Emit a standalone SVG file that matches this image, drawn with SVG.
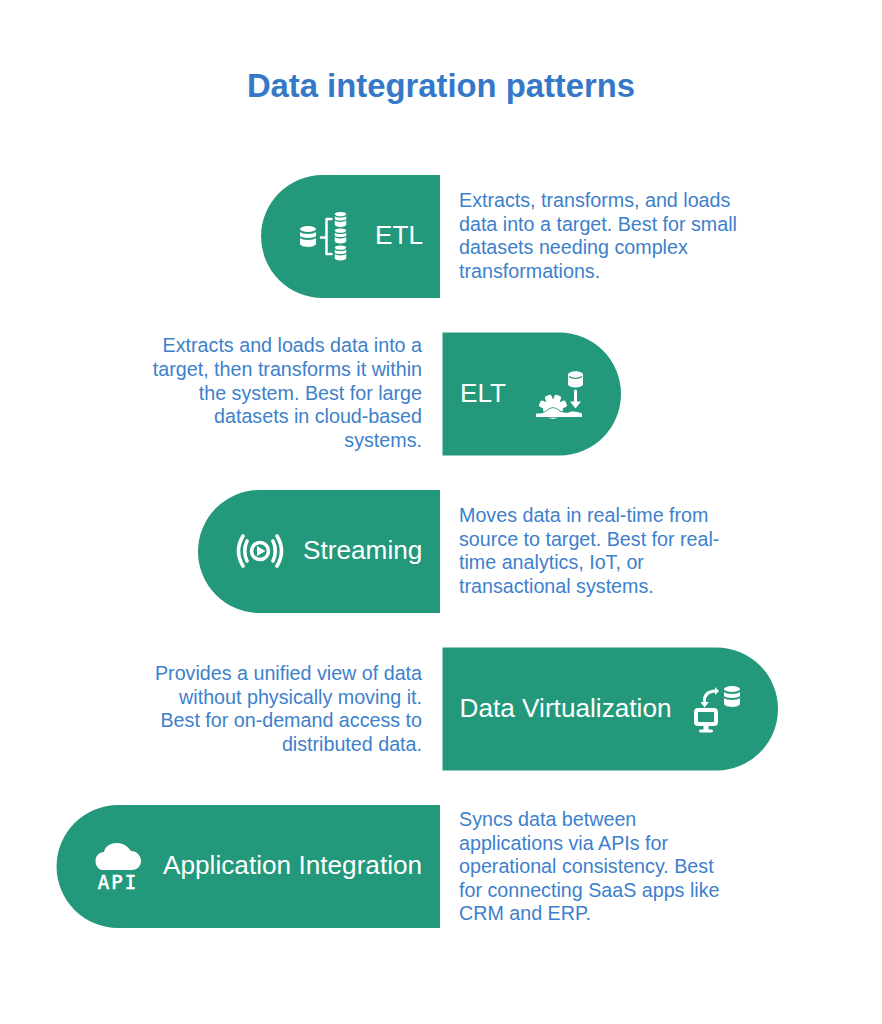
<svg xmlns="http://www.w3.org/2000/svg" width="882" height="1024" viewBox="0 0 882 1024">
<style>
text{font-family:"Liberation Sans",Arial,sans-serif}
.t{font-size:32.800px;font-weight:700;fill:#3578c8}
.l{font-size:26.200px;fill:#fff}
.d{font-size:19.700px;fill:#3d80cc}
.e{text-anchor:end}
.b{fill:#23987a}
.i{fill:#fff;stroke:none}
.s{fill:none;stroke:#fff;stroke-width:3;stroke-linecap:round;stroke-linejoin:round}
</style>
<defs>
<g id="db">
<ellipse class="i" cx="0" cy="-7.500" rx="8" ry="3"/>
<path class="i" d="M-8 -4.500C-6 -2 6 -2 8 -4.500V-.5C6 2 -6 2 -8 -.5Z"/>
<path class="i" d="M-8 1.500C-6 4 6 4 8 1.500V7C8 11.500 -8 11.500 -8 7Z"/>
</g>
<rect id="tooth" class="i" x="-3.500" y="-14.500" width="7" height="7" rx="2"/>
</defs>
<rect width="882" height="1024" fill="#fff"/>
<text class="t" x="441" y="97" text-anchor="middle">Data integration patterns</text>
<g id="etl">
<path class="b" d="M440 175V298H322.500A61.500 61.500 0 0 1 322.500 175Z"/>
<use href="#db" transform="translate(308 236.500)"/>
<use href="#db" transform="translate(340.500 219.500) scale(.72)"/>
<use href="#db" transform="translate(340.500 236) scale(.72)"/>
<use href="#db" transform="translate(340.500 253) scale(.72)"/>
<path class="s" style="stroke-width:2.500" d="M331.500 219H326.500V254H331.500M326.500 237.500H321"/>
<text class="l" x="375" y="244">ETL</text>
<g class="d"><text x="459" y="207">Extracts, transforms, and loads</text><text x="459" y="230.500">data into a target. Best for small</text><text x="459" y="254">datasets needing complex</text><text x="459" y="277.500">transformations.</text></g>
</g>
<g id="elt">
<path class="b" d="M442.500 332.500V455.500H559.500A61.500 61.500 0 0 0 559.500 332.500Z"/>
<text class="l" x="460" y="401.500">ELT</text>
<path class="i" d="M568 375C568 370 583 370 583 375V384C583 388.500 568 388.500 568 384Z"/><path d="M569 376.500C572 379 579 379 582 376.500" fill="none" stroke="#23987a" stroke-width="1.200"/>
<path class="s" d="M575.500 391V403"/><path class="i" d="M570 401.500H581L575.500 408.500Z"/>
<circle class="i" cx="553" cy="409" r="10"/>
<use href="#tooth" transform="translate(553 409) rotate(-22)"/><use href="#tooth" transform="translate(553 409) rotate(22)"/>
<use href="#tooth" transform="translate(553 409) rotate(-66)"/><use href="#tooth" transform="translate(553 409) rotate(66)"/>
<path d="M536 417V413.500C541 413.500 545 413 548 410 551 407.500 555 407.500 558 410 561 413 565 413 569 412.500 572 410.500 578 412 582 413.500V417Z" fill="#fff" stroke="#23987a" stroke-width="1.500" paint-order="stroke"/>
<g class="d"><text class="e" x="422" y="352">Extracts and loads data into a</text><text class="e" x="422" y="376">target, then transforms it within</text><text class="e" x="422" y="399.500">the system. Best for large</text><text class="e" x="422" y="423">datasets in cloud-based</text><text class="e" x="422" y="446.500">systems.</text></g>
</g>
<g id="streaming">
<path class="b" d="M440 490V613H259.500A61.500 61.500 0 0 1 259.500 490Z"/>
<circle cx="260" cy="551" r="8.500" fill="none" stroke="#fff" stroke-width="3.500"/><path class="i" d="M257 546L265.500 551 257 556Z"/>
<path class="s" style="stroke-width:3.600" d="M247 541Q242.500 551 247 561M273 541Q277.500 551 273 561M243 536Q234 551 243 566M277 536Q286 551 277 566"/>
<text class="l" x="303" y="559">Streaming</text>
<g class="d"><text x="459" y="522">Moves data in real-time from</text><text x="459" y="545.500">source to target. Best for real-</text><text x="459" y="569">time analytics, IoT, or</text><text x="459" y="592.500">transactional systems.</text></g>
</g>
<g id="virtualization">
<path class="b" d="M442.500 647.500V770.500H716.500A61.500 61.500 0 0 0 716.500 647.500Z"/>
<text class="l" x="459.500" y="716.500">Data Virtualization</text>
<use href="#db" transform="translate(732 696.500)"/>
<path class="s" d="M704.500 701Q704 691.500 716 691"/><path class="i" d="M715 687L719 691 715 695ZM700.500 702H709L704.500 707.500Z"/>
<rect x="696" y="710" width="20" height="14" rx="2" fill="none" stroke="#fff" stroke-width="4"/>
<rect class="i" x="703.500" y="726" width="5" height="4"/><rect class="i" x="699" y="729.500" width="14" height="3" rx="1.500"/>
<g class="d"><text class="e" x="422" y="680">Provides a unified view of data</text><text class="e" x="422" y="703.500">without physically moving it.</text><text class="e" x="422" y="727">Best for on-demand access to</text><text class="e" x="422" y="750.500">distributed data.</text></g>
</g>
<g id="application">
<path class="b" d="M440 805V928H118A61.500 61.500 0 0 1 118 805Z"/>
<path class="i" d="M103 870C98 870 95.500 865 95.500 861 95.500 856 99 852 104 852 105 846 111 843 117 843 124 843 128 847 131 851 137 851 141 856 141 861 141 866 137 870 132 870Z"/>
<text x="118" y="889" text-anchor="middle" style="font-family:'DejaVu Sans Mono',monospace;font-size:19px;fill:#fff;stroke:#fff;stroke-width:.6;letter-spacing:2px">API</text>
<text class="l" x="163" y="874">Application Integration</text>
<g class="d"><text x="459" y="826">Syncs data between</text><text x="459" y="849.500">applications via APIs for</text><text x="459" y="873">operational consistency. Best</text><text x="459" y="896.500">for connecting SaaS apps like</text><text x="459" y="920">CRM and ERP.</text></g>
</g>
</svg>
